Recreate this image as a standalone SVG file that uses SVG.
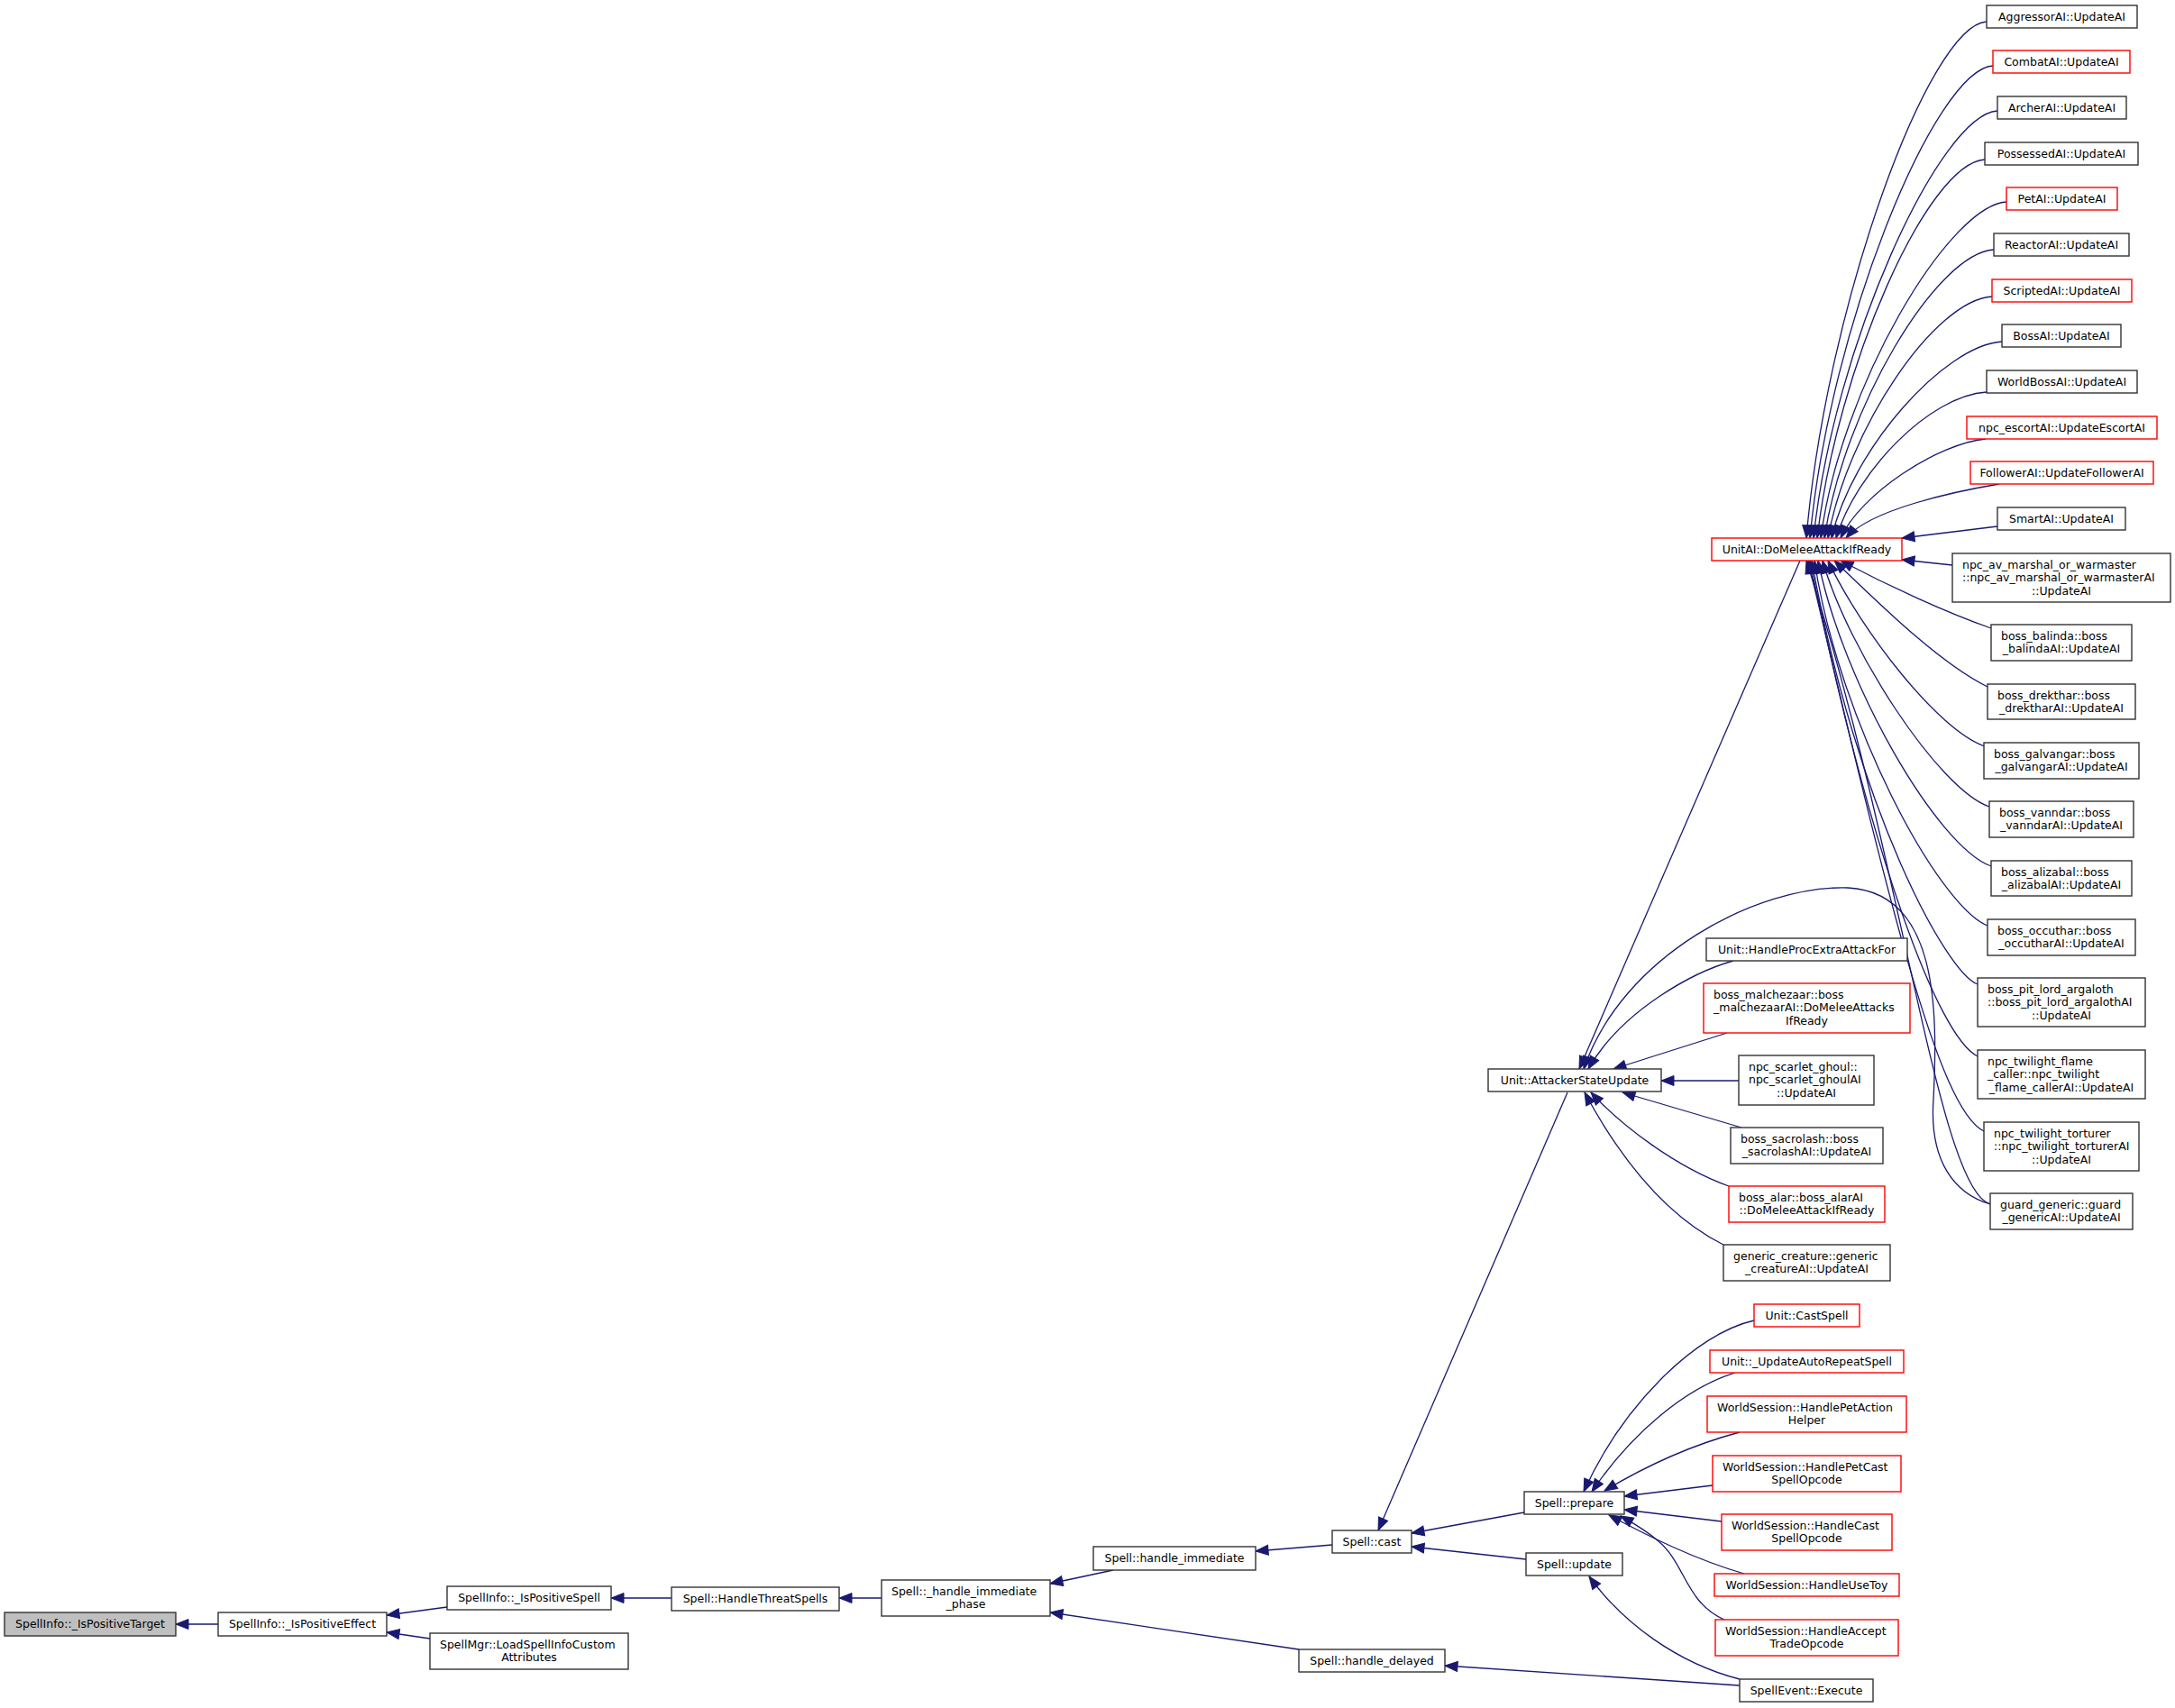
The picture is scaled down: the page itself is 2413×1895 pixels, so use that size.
<svg xmlns="http://www.w3.org/2000/svg" width="2413" height="1895" viewBox="0 0 2413 1895">
<style>
.node rect{fill:#fff;stroke:#333;stroke-width:1.4}
.node.red rect{stroke:#ff0000}
.node.root rect{fill:#bfbfbf}
text{font-family:"DejaVu Sans",Verdana,sans-serif;font-size:12.5px;fill:#000}
.m{text-anchor:middle}
.s{text-anchor:start}
.edges path{fill:none;stroke:#191970;stroke-width:1.3;marker-end:url(#arr)}
</style>
<defs>
<marker id="arr" markerUnits="userSpaceOnUse" markerWidth="17" markerHeight="14" viewBox="-1 -1 17 14" refX="14" refY="5.5" orient="auto">
<path d="M0,0 L14,5.5 L0,11 z" fill="#191970" stroke="#191970" stroke-width="1"/>
</marker>
</defs>
<rect x="0" y="0" width="2413" height="1895" fill="#fff"/>
<g class="edges" id="edges">
<path d="M242,1802 L195,1802"/>
<path d="M496,1783 L429,1792"/>
<path d="M477,1818 L429,1811"/>
<path d="M745,1773 L678,1773"/>
<path d="M978,1773 L931,1773"/>
<path d="M1235,1742 L1165,1757"/>
<path d="M1441,1830 L1165,1789"/>
<path d="M1478,1714 L1393,1721"/>
<path d="M1930,1870 L1603,1848"/>
<path d="M1739,1212 L1529,1698"/>
<path d="M1691,1678 L1566,1701"/>
<path d="M1693,1730 L1566,1716"/>
<path d="M1997,622 L1752,1186"/>
<path d="M2208,1336 C2170,1325 2140,1290 2145,1220 C2150,1120 2150,990 2050,985 C1950,982 1800,1060 1757,1186"/>
<path d="M1923,1066 C1880,1078 1800,1120 1762,1186"/>
<path d="M1916,1146 L1790,1186"/>
<path d="M1929,1199 L1843,1199"/>
<path d="M1932,1251 L1800,1212"/>
<path d="M1918,1316 C1860,1295 1800,1250 1765,1212"/>
<path d="M1912,1381 C1850,1350 1800,1290 1758,1212"/>
<path d="M2204,24 C2140,28 2026,339 2004,597"/>
<path d="M2211,73 C2147,77 2030,361 2008,597"/>
<path d="M2216,123 C2152,127 2034,384 2012,597"/>
<path d="M2202,177 C2138,181 2038,408 2016,597"/>
<path d="M2226,224 C2162,228 2042,429 2020,597"/>
<path d="M2212,277 C2148,281 2046,453 2024,597"/>
<path d="M2210,329 C2146,333 2050,476 2028,597"/>
<path d="M2221,379 C2157,383 2054,499 2032,597"/>
<path d="M2204,435 C2140,439 2059,524 2037,597"/>
<path d="M2203,487 C2150,492 2064,548 2042,597"/>
<path d="M2218,537 C2170,545 2075,565 2048,597"/>
<path d="M2216,584 L2110,597"/>
<path d="M2166,627 L2110,621"/>
<path d="M2209,697 C2160,680 2095,650 2042,622"/>
<path d="M2205,762 C2150,735 2080,665 2035,622"/>
<path d="M2202,828 C2150,810 2065,700 2028,622"/>
<path d="M2207,895 C2150,875 2050,720 2022,622"/>
<path d="M2209,961 C2150,940 2045,760 2017,622"/>
<path d="M2205,1027 C2150,1005 2040,800 2013,622"/>
<path d="M2194,1092 C2160,1080 2060,900 2010,622"/>
<path d="M2194,1172 C2150,1150 2075,950 2008,622"/>
<path d="M2201,1255 C2150,1230 2095,1000 2006,622"/>
<path d="M2208,1336 C2150,1320 2110,950 2004,622"/>
<path d="M1946,1465 C1880,1480 1800,1560 1757,1655"/>
<path d="M1925,1523 C1870,1540 1810,1590 1766,1655"/>
<path d="M1930,1589 C1870,1605 1820,1630 1780,1654"/>
<path d="M1900,1648 L1802,1660"/>
<path d="M1910,1688 L1802,1675"/>
<path d="M1935,1746 C1880,1730 1830,1705 1785,1681"/>
<path d="M1913,1797 C1870,1778 1870,1735 1840,1710 C1825,1697 1812,1690 1798,1682"/>
<path d="M1930,1863 C1860,1845 1800,1800 1763,1749"/>
</g>
<g id="n_target" class="node root"><rect x="5" y="1789" width="190" height="26"/><text class="m" x="100" y="1806">SpellInfo::_IsPositiveTarget</text></g>
<g id="n_effect" class="node"><rect x="242" y="1789" width="187" height="26"/><text class="m" x="335.5" y="1806">SpellInfo::_IsPositiveEffect</text></g>
<g id="n_pspell" class="node"><rect x="496" y="1760" width="182" height="26"/><text class="m" x="587" y="1777">SpellInfo::_IsPositiveSpell</text></g>
<g id="n_spellmgr" class="node"><rect x="477" y="1812" width="220" height="40"/><text class="s" x="488" y="1828.5">SpellMgr::LoadSpellInfoCustom</text><text class="m" x="587" y="1843">Attributes</text></g>
<g id="n_threat" class="node"><rect x="745" y="1761" width="186" height="26"/><text class="m" x="838" y="1778">Spell::HandleThreatSpells</text></g>
<g id="n_phase" class="node"><rect x="978" y="1753" width="187" height="40"/><text class="s" x="989" y="1769.5">Spell::_handle_immediate</text><text class="m" x="1071.5" y="1784">_phase</text></g>
<g id="n_himm" class="node"><rect x="1213" y="1716" width="180" height="26"/><text class="m" x="1303" y="1733">Spell::handle_immediate</text></g>
<g id="n_cast" class="node"><rect x="1478" y="1698" width="88" height="25"/><text class="m" x="1522" y="1715">Spell::cast</text></g>
<g id="n_hdelayed" class="node"><rect x="1441" y="1830" width="162" height="25"/><text class="m" x="1522" y="1847">Spell::handle_delayed</text></g>
<g id="n_prepare" class="node"><rect x="1691" y="1655" width="111" height="25"/><text class="m" x="1746.5" y="1672">Spell::prepare</text></g>
<g id="n_update" class="node"><rect x="1693" y="1723" width="107" height="25"/><text class="m" x="1746.5" y="1740">Spell::update</text></g>
<g id="n_asu" class="node"><rect x="1651" y="1186" width="192" height="25"/><text class="m" x="1747" y="1203">Unit::AttackerStateUpdate</text></g>
<g id="n_unitai" class="node red"><rect x="1899" y="597" width="211" height="25"/><text class="m" x="2004.5" y="614">UnitAI::DoMeleeAttackIfReady</text></g>
<g id="n_castspell" class="node red"><rect x="1946" y="1447" width="117" height="25"/><text class="m" x="2004.5" y="1464">Unit::CastSpell</text></g>
<g id="n_autorepeat" class="node red"><rect x="1897" y="1498" width="215" height="25"/><text class="m" x="2004.5" y="1515">Unit::_UpdateAutoRepeatSpell</text></g>
<g id="n_petaction" class="node red"><rect x="1894" y="1549" width="221" height="40"/><text class="s" x="1905" y="1565.5">WorldSession::HandlePetAction</text><text class="m" x="2004.5" y="1580">Helper</text></g>
<g id="n_petcast" class="node red"><rect x="1900" y="1615" width="209" height="40"/><text class="s" x="1911" y="1631.5">WorldSession::HandlePetCast</text><text class="m" x="2004.5" y="1646">SpellOpcode</text></g>
<g id="n_handlecast" class="node red"><rect x="1910" y="1680" width="189" height="40"/><text class="s" x="1921" y="1696.5">WorldSession::HandleCast</text><text class="m" x="2004.5" y="1711">SpellOpcode</text></g>
<g id="n_usetoy" class="node red"><rect x="1902" y="1746" width="205" height="25"/><text class="m" x="2004.5" y="1763">WorldSession::HandleUseToy</text></g>
<g id="n_accepttrade" class="node red"><rect x="1903" y="1797" width="203" height="40"/><text class="s" x="1914" y="1813.5">WorldSession::HandleAccept</text><text class="m" x="2004.5" y="1828">TradeOpcode</text></g>
<g id="n_spellevent" class="node"><rect x="1930" y="1863" width="148" height="25"/><text class="m" x="2004" y="1880">SpellEvent::Execute</text></g>
<g id="n_procextra" class="node"><rect x="1893" y="1041" width="223" height="25"/><text class="m" x="2004.5" y="1058">Unit::HandleProcExtraAttackFor</text></g>
<g id="n_malchezaar" class="node red"><rect x="1890" y="1091" width="229" height="55"/><text class="s" x="1901" y="1107.5">boss_malchezaar::boss</text><text class="s" x="1901" y="1122.2">_malchezaarAI::DoMeleeAttacks</text><text class="m" x="2004.5" y="1137">IfReady</text></g>
<g id="n_scarlet" class="node"><rect x="1929" y="1171" width="150" height="55"/><text class="s" x="1940" y="1187.5">npc_scarlet_ghoul::</text><text class="s" x="1940" y="1202.2">npc_scarlet_ghoulAI</text><text class="m" x="2004" y="1217">::UpdateAI</text></g>
<g id="n_sacrolash" class="node"><rect x="1920" y="1251" width="169" height="40"/><text class="s" x="1931" y="1267.5">boss_sacrolash::boss</text><text class="m" x="2004.5" y="1282">_sacrolashAI::UpdateAI</text></g>
<g id="n_alar" class="node red"><rect x="1918" y="1316" width="173" height="40"/><text class="s" x="1929" y="1332.5">boss_alar::boss_alarAI</text><text class="m" x="2004.5" y="1347">::DoMeleeAttackIfReady</text></g>
<g id="n_generic" class="node"><rect x="1912" y="1381" width="185" height="40"/><text class="s" x="1923" y="1397.5">generic_creature::generic</text><text class="m" x="2004.5" y="1412">_creatureAI::UpdateAI</text></g>
<g id="n_aggressor" class="node"><rect x="2204" y="6" width="167" height="25"/><text class="m" x="2287.5" y="23">AggressorAI::UpdateAI</text></g>
<g id="n_combat" class="node red"><rect x="2211" y="56" width="152" height="25"/><text class="m" x="2287" y="73">CombatAI::UpdateAI</text></g>
<g id="n_archer" class="node"><rect x="2216" y="107" width="143" height="25"/><text class="m" x="2287.5" y="124">ArcherAI::UpdateAI</text></g>
<g id="n_possessed" class="node"><rect x="2202" y="158" width="170" height="25"/><text class="m" x="2287" y="175">PossessedAI::UpdateAI</text></g>
<g id="n_petai" class="node red"><rect x="2226" y="208" width="123" height="25"/><text class="m" x="2287.5" y="225">PetAI::UpdateAI</text></g>
<g id="n_reactor" class="node"><rect x="2212" y="259" width="150" height="25"/><text class="m" x="2287" y="276">ReactorAI::UpdateAI</text></g>
<g id="n_scripted" class="node red"><rect x="2210" y="310" width="155" height="25"/><text class="m" x="2287.5" y="327">ScriptedAI::UpdateAI</text></g>
<g id="n_bossai" class="node"><rect x="2221" y="360" width="132" height="25"/><text class="m" x="2287" y="377">BossAI::UpdateAI</text></g>
<g id="n_worldboss" class="node"><rect x="2204" y="411" width="167" height="25"/><text class="m" x="2287.5" y="428">WorldBossAI::UpdateAI</text></g>
<g id="n_escort" class="node red"><rect x="2182" y="462" width="211" height="25"/><text class="m" x="2287.5" y="479">npc_escortAI::UpdateEscortAI</text></g>
<g id="n_follower" class="node red"><rect x="2186" y="512" width="203" height="25"/><text class="m" x="2287.5" y="529">FollowerAI::UpdateFollowerAI</text></g>
<g id="n_smart" class="node"><rect x="2216" y="563" width="142" height="25"/><text class="m" x="2287" y="580">SmartAI::UpdateAI</text></g>
<g id="n_npcav" class="node"><rect x="2166" y="614" width="242" height="54"/><text class="s" x="2177" y="630.5">npc_av_marshal_or_warmaster</text><text class="s" x="2177" y="645.2">::npc_av_marshal_or_warmasterAI</text><text class="m" x="2287" y="660">::UpdateAI</text></g>
<g id="n_balinda" class="node"><rect x="2209" y="693" width="156" height="40"/><text class="s" x="2220" y="709.5">boss_balinda::boss</text><text class="m" x="2287" y="724">_balindaAI::UpdateAI</text></g>
<g id="n_drekthar" class="node"><rect x="2205" y="759" width="164" height="39"/><text class="s" x="2216" y="775.5">boss_drekthar::boss</text><text class="m" x="2287" y="790">_drektharAI::UpdateAI</text></g>
<g id="n_galvangar" class="node"><rect x="2201" y="824" width="172" height="40"/><text class="s" x="2212" y="840.5">boss_galvangar::boss</text><text class="m" x="2287" y="855">_galvangarAI::UpdateAI</text></g>
<g id="n_vanndar" class="node"><rect x="2207" y="889" width="160" height="40"/><text class="s" x="2218" y="905.5">boss_vanndar::boss</text><text class="m" x="2287" y="920">_vanndarAI::UpdateAI</text></g>
<g id="n_alizabal" class="node"><rect x="2209" y="955" width="156" height="39"/><text class="s" x="2220" y="971.5">boss_alizabal::boss</text><text class="m" x="2287" y="986">_alizabalAI::UpdateAI</text></g>
<g id="n_occuthar" class="node"><rect x="2205" y="1020" width="164" height="40"/><text class="s" x="2216" y="1036.5">boss_occuthar::boss</text><text class="m" x="2287" y="1051">_occutharAI::UpdateAI</text></g>
<g id="n_pitlord" class="node"><rect x="2194" y="1085" width="186" height="54"/><text class="s" x="2205" y="1101.5">boss_pit_lord_argaloth</text><text class="s" x="2205" y="1116.2">::boss_pit_lord_argalothAI</text><text class="m" x="2287" y="1131">::UpdateAI</text></g>
<g id="n_flame" class="node"><rect x="2194" y="1165" width="186" height="54"/><text class="s" x="2205" y="1181.5">npc_twilight_flame</text><text class="s" x="2205" y="1196.2">_caller::npc_twilight</text><text class="m" x="2287" y="1211">_flame_callerAI::UpdateAI</text></g>
<g id="n_torturer" class="node"><rect x="2201" y="1245" width="172" height="54"/><text class="s" x="2212" y="1261.5">npc_twilight_torturer</text><text class="s" x="2212" y="1276.2">::npc_twilight_torturerAI</text><text class="m" x="2287" y="1291">::UpdateAI</text></g>
<g id="n_guard" class="node"><rect x="2208" y="1324" width="158" height="40"/><text class="s" x="2219" y="1340.5">guard_generic::guard</text><text class="m" x="2287" y="1355">_genericAI::UpdateAI</text></g>
</svg>
